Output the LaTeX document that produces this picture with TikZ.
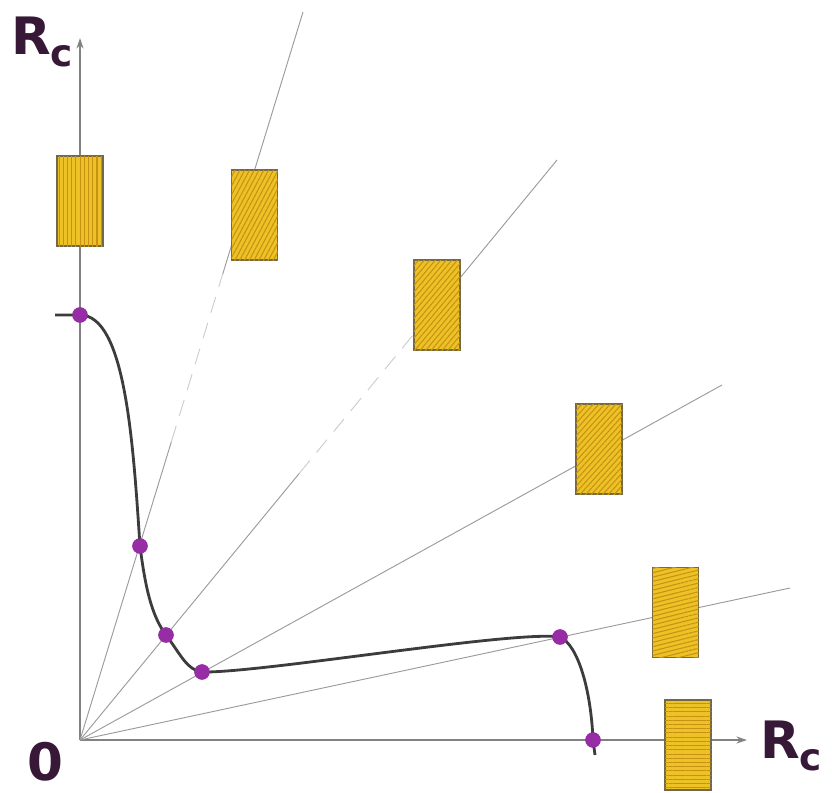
\documentclass[tikz,border=0pt]{standalone}
\usepackage{fontspec}
\newfontfamily\handfont{DejaVu Sans}
\usetikzlibrary{arrows.meta, calc, patterns.meta}

\definecolor{axisgray}{RGB}{130,130,130}
\definecolor{curvegray}{RGB}{60,60,60}
\definecolor{dotpurple}{RGB}{150,45,165}
\definecolor{chipgold}{RGB}{236,194,38}
\definecolor{chipline}{RGB}{200,145,20}
\definecolor{chipedge}{RGB}{115,105,70}
\definecolor{labelink}{RGB}{55,25,55}

\begin{document}
\begin{tikzpicture}[
x=0.3mm, y=-0.3mm,
axisline/.style={draw=axisgray, line width=1.1pt, -{Stealth[length=9pt, width=6pt]}},
ray/.style={draw=axisgray!80, line width=0.8pt},
faint/.style={draw=axisgray!40, line width=0.8pt, dash pattern=on 14pt off 9pt},
loadcurve/.style={draw=curvegray, line width=2.4pt},
dot/.style={circle, fill=dotpurple, inner sep=0pt, minimum size=4.6mm},
chip/.style={draw=chipedge, line width=1pt, fill=chipgold, minimum width=13.8mm, minimum height=27mm, inner sep=0pt,
  postaction={pattern={Lines[angle=#1, distance=3.6pt, line width=0.9pt]}, pattern color=chipline}},
axislabel/.style={text=labelink, font=\handfont\bfseries\fontsize{44}{44}\selectfont, inner sep=0pt}
]
\useasboundingbox (0,0) rectangle (832,792);

% ---------- AXES AND RAYS ----------

\coordinate (O) at (80,740);
\coordinate (xend) at (747,740);
\coordinate (yend) at (80,38);
\coordinate (r1) at (303,12);
\coordinate (r2) at (557,160);
\coordinate (r3) at (722,385);
\coordinate (r4) at (790,588);
\coordinate (a1) at ($(O)!0.41!(r1)$);
\coordinate (b1) at ($(O)!0.64!(r1)$);
\coordinate (a2) at ($(O)!0.46!(r2)$);
\coordinate (b2) at ($(O)!0.71!(r2)$);

\draw[axisline] (O) -- (xend);
\draw[axisline] (O) -- (yend);

\draw[ray] (O) -- (a1);
\draw[faint] (a1) -- (b1);
\draw[ray] (b1) -- (r1);
\draw[ray] (O) -- (a2);
\draw[faint] (a2) -- (b2);
\draw[ray] (b2) -- (r2);
\draw[ray] (O) -- (r3);
\draw[ray] (O) -- (r4);

% ---------- CURVE ----------

\node[dot] (p1) at (80,315) {};
\node[dot] (p2) at (140,546) {};
\node[dot] (p3) at (166,635) {};
\node[dot] (p4) at (202,672) {};
\node[dot] (p5) at (560,637) {};
\node[dot] (p6) at (593,740) {};
\coordinate (c0) at (55,315);
\coordinate (c7) at (595,755);

\draw[loadcurve] (c0) -- (p1.center)
  .. controls (125,315) and (133,440) .. (p2.center)
  .. controls (145,585) and (151,615) .. (p3.center)
  .. controls (181,655) and (187,670) .. (p4.center)
  .. controls (262,673) and (515,630) .. (p5.center)
  .. controls (578,645) and (591,690) .. (p6.center) -- (c7);

\foreach \p in {p1,p2,p3,p4,p5,p6}
  \fill[dotpurple] (\p) circle (2.3mm);

% ---------- SAMPLES ----------

\node[chip=90] (s1) at (80,201) {};
\node[chip=62] (s2) at (254.5,215) {};
\node[chip=50] (s3) at (437,305) {};
\node[chip=48] (s4) at (599,449) {};
\node[chip=14] (s5) at (675.5,612.5) {};
\node[chip=0] (s6) at (688,745) {};

% ---------- LABELS ----------

\node[axislabel] (ylab) at (42,42) {R\raisebox{-0.4ex}{\fontsize{32}{32}\selectfont c}};
\node[axislabel] (xlab) at (791,746) {R\raisebox{-0.4ex}{\fontsize{32}{32}\selectfont c}};
\node[axislabel] (zero) at (45,762) {0};

\end{tikzpicture}
\end{document}
